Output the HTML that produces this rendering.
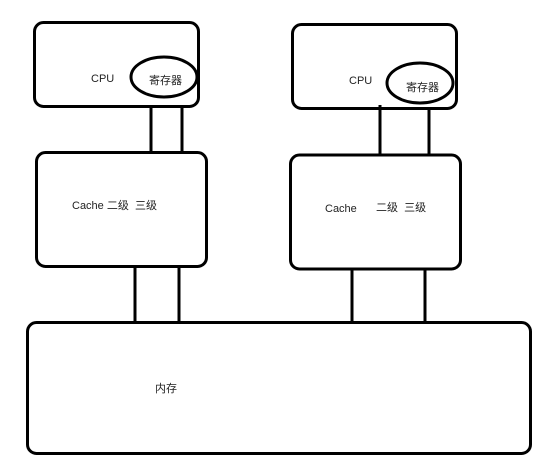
<!DOCTYPE html>
<html><head><meta charset="utf-8"><style>
html,body{margin:0;padding:0;background:#fff;width:543px;height:461px;overflow:hidden}
svg text{font-family:"Liberation Sans","Noto Sans CJK SC",sans-serif;font-size:11px;fill:#222}
</style></head><body>
<svg width="543" height="461" viewBox="0 0 543 461" xmlns="http://www.w3.org/2000/svg">
<g fill="none" stroke="#000" stroke-width="3">
<rect x="34.5" y="22.5" width="164" height="84" rx="9"/>
<ellipse cx="164" cy="77" rx="33" ry="20"/>
<rect x="292.5" y="24.5" width="164" height="84" rx="9"/>
<ellipse cx="420" cy="83" rx="33" ry="20"/>
<line x1="151" y1="107" x2="151" y2="152"/>
<line x1="182" y1="107" x2="182" y2="152"/>
<line x1="380" y1="105" x2="380" y2="155"/>
<line x1="429" y1="108" x2="429" y2="155"/>
<rect x="36.5" y="152.5" width="170" height="114" rx="9"/>
<rect x="290.5" y="155" width="170" height="114" rx="9"/>
<line x1="135" y1="267" x2="135" y2="323"/>
<line x1="179" y1="267" x2="179" y2="323"/>
<line x1="352" y1="269" x2="352" y2="323"/>
<line x1="425" y1="269" x2="425" y2="323"/>
<rect x="27.5" y="322.5" width="503" height="131" rx="9"/>
</g>
<text x="91" y="82">CPU</text>
<text x="149" y="84">寄存器</text>
<text x="349" y="84">CPU</text>
<text x="406" y="91">寄存器</text>
<text x="72" y="209">Cache 二级&#160; 三级</text>
<text x="325" y="212">Cache</text>
<text x="376" y="211">二级&#160; 三级</text>
<text x="155" y="392">内存</text>
</svg>
</body></html>
